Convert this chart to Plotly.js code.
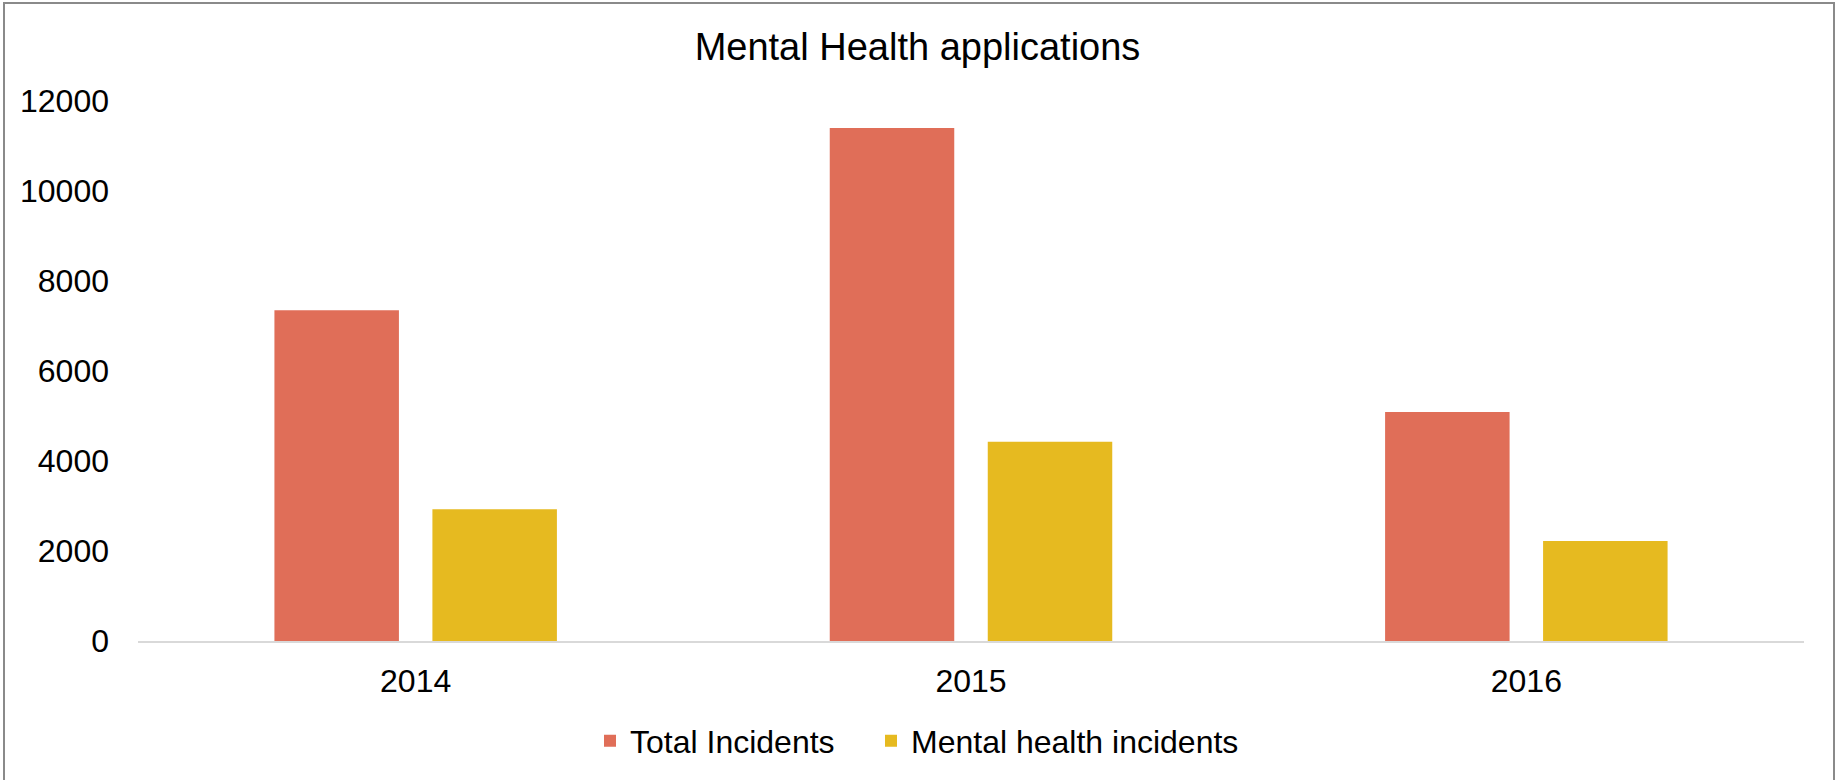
<!DOCTYPE html>
<html>
<head>
<meta charset="utf-8">
<script src="https://cdn.plot.ly/plotly-3.0.1.min.js"></script>
<style>
  html, body { margin: 0; padding: 0; background: #fff; }
  #wrap { position: relative; width: 1835px; height: 780px; overflow: hidden; }
  #chart { position: absolute; left: 0; top: 0; width: 1835px; height: 780px; }
  #frame { position: absolute; left: 3px; top: 2px; width: 1828px; height: 800px;
           border-left: 2px solid #8a8a8a; border-top: 2px solid #8a8a8a; border-right: 2px solid #8a8a8a;
           pointer-events: none; }
</style>
</head>
<body>
<div id="wrap">
  <div id="chart"></div>
  <div id="frame"></div>
</div>
<script>
const years = ["2014", "2015", "2016"];
const totalIncidents = [7350, 11400, 5090];
const mentalHealthIncidents = [2930, 4430, 2220];
const seriesNames = ["Total Incidents", "Mental health incidents"];
const yTicks = [0, 2000, 4000, 6000, 8000, 10000, 12000];

const font = "Liberation Sans, Arial, sans-serif";

const traces = [
  { type: "bar", x: years, y: totalIncidents, name: seriesNames[0], legend: "legend",
    marker: { color: "#E06E58" }, hoverinfo: "x+y+name" },
  { type: "bar", x: years, y: mentalHealthIncidents, name: seriesNames[1], legend: "legend2",
    marker: { color: "#E6BA20" }, hoverinfo: "x+y+name" }
];

const legendBase = {
  orientation: "h", yref: "container", y: 0.05, yanchor: "middle", xanchor: "left",
  font: { family: font, size: 32, color: "#000" }, bgcolor: "rgba(0,0,0,0)", borderwidth: 0
};

const layout = {
  width: 1835, height: 780,
  paper_bgcolor: "#ffffff", plot_bgcolor: "#ffffff",
  font: { family: font, color: "#000000", size: 32 },
  title: { text: "Mental Health applications", font: { family: font, size: 38, color: "#000" },
           x: 0.5, xanchor: "center", y: 0.94, yanchor: "middle", yref: "container" },
  margin: { l: 138, r: 31, t: 101, b: 139 },
  barmode: "group",
  bargap: 0.431,
  bargroupgap: 0.212,
  xaxis: { type: "category", showgrid: false, zeroline: false, showline: true,
           linecolor: "#d9d9d9", linewidth: 2, ticks: "", ticklen: 0,
           tickfont: { family: font, size: 32, color: "#000" }, ticklabelstandoff: 11 },
  yaxis: { range: [0, 12000], tickvals: yTicks, ticktext: yTicks.map(String),
           showgrid: false, zeroline: false, showline: false, ticks: "",
           tickfont: { family: font, size: 32, color: "#000" }, ticklabelstandoff: 28 },
  legend: Object.assign({}, legendBase, { x: (590 - 138) / 1666 }),
  legend2: Object.assign({}, legendBase, { x: (871 - 138) / 1666 }),
  showlegend: true
};

Plotly.newPlot("chart", traces, layout, { displayModeBar: false, staticPlot: true });
</script>
</body>
</html>
